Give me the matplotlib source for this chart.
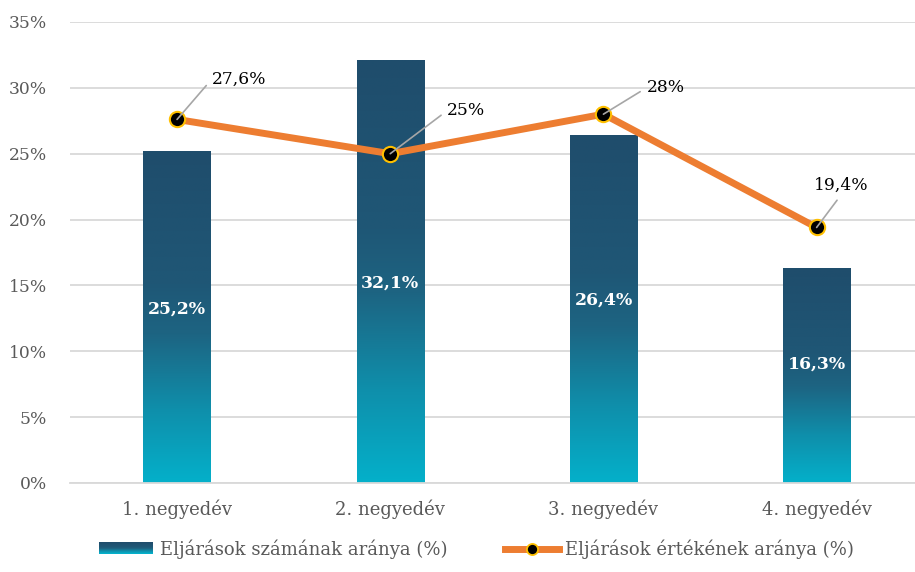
import numpy as np
import matplotlib.pyplot as plt
from matplotlib.colors import LinearSegmentedColormap
from matplotlib.patches import Rectangle
from matplotlib.lines import Line2D
from matplotlib.legend_handler import HandlerBase

categories = ["1. negyedév", "2. negyedév", "3. negyedév", "4. negyedév"]
szam_arany = [25.2, 32.1, 26.4, 16.3]     # Eljárások számának aránya (%)
ertek_arany = [27.6, 25.0, 28.0, 19.4]    # Eljárások értékének aránya (%)
ertek_labels = ["27,6%", "25%", "28%", "19,4%"]
yticks = [0, 5, 10, 15, 20, 25, 30, 35]

plt.rcParams['font.family'] = ['DejaVu Serif']

# dark teal on top, fading to cyan near the base
grad = LinearSegmentedColormap.from_list(
    "bar", [(0.0, "#04b0ca"), (0.22, "#0f8fab"), (0.45, "#1d6482"),
            (0.6, "#1f5776"), (1.0, "#1f4d6c")])

fig = plt.figure(figsize=(9.15, 5.72), dpi=100)
ax = fig.add_axes([0.077, 0.1556, 0.932, 0.806])

x = np.arange(len(categories))
bw = 0.315
label_shift = [0.6, -0.85, 0.7, 0.85]   # nudge white labels inside bars
grad_img = np.linspace(0, 1, 256).reshape(-1, 1)
for xi, v, dy in zip(x, szam_arany, label_shift):
    ax.imshow(grad_img, cmap=grad, origin="lower", aspect="auto",
              extent=(xi - bw / 2, xi + bw / 2, 0, v), zorder=2)
    ax.text(xi, v / 2 + dy, f"{v:.1f}%".replace(".", ","), ha="center", va="center",
            color="white", fontsize=12.4, fontweight="bold", zorder=3)

ax.plot(x, ertek_arany, color="#ed7d31", lw=5, zorder=4, solid_capstyle="butt")
ax.plot(x, ertek_arany, ls="none", marker="o", ms=11, mfc="black",
        mec="#ffc000", mew=1.5, zorder=5)

offsets = [(25, 29), (41, 31), (31, 19), (18, 24)]
relpos = [(0, 0.5), (0, 0.5), (0, 0.5), (0.5, 0)]
has = ["left", "left", "left", "center"]
vas = ["center", "center", "center", "bottom"]
for i, (xi, v) in enumerate(zip(x, ertek_arany)):
    ax.annotate(ertek_labels[i], (xi, v), xytext=offsets[i], textcoords="offset points",
                ha=has[i], va=vas[i], fontsize=12.3, color="black", zorder=6,
                arrowprops=dict(arrowstyle="-", color="#a6a6a6", lw=1.2,
                                shrinkA=3, shrinkB=0, relpos=relpos[i]))

ax.set_xlim(-0.5, 3.5)
ax.set_ylim(0, 35)
ax.set_yticks(yticks)
ax.set_yticklabels([f"{t}%" for t in yticks], fontsize=12.3)
ax.set_xticks(x)
ax.set_xticklabels(categories, fontsize=13)
ax.tick_params(length=0, labelcolor="#595959")
ax.tick_params(axis="y", pad=17)
ax.tick_params(axis="x", pad=12)
ax.grid(axis="y", color="#d9d9d9", lw=1.3, zorder=0)
ax.set_axisbelow(True)
for s in ["top", "right", "left"]:
    ax.spines[s].set_visible(False)
ax.spines["bottom"].set_color("#d9d9d9")
ax.spines["bottom"].set_linewidth(1.3)


class GradientHandler(HandlerBase):
    def create_artists(self, legend, orig_handle, xdescent, ydescent,
                       width, height, fontsize, trans):
        n = 12
        arts = []
        for k in range(n):
            arts.append(Rectangle((-xdescent, -ydescent + height * k / n), width, height / n + 0.2,
                                  facecolor=grad(k / (n - 1)), edgecolor="none", transform=trans))
        return arts


bar_handle = Rectangle((0, 0), 1, 1)
line_handle = Line2D([], [], color="#ed7d31", lw=5, marker="o", ms=8,
                     mfc="black", mec="#ffc000", mew=1.3)
fig.legend([bar_handle, line_handle],
           ["Eljárások számának aránya (%)", "Eljárások értékének aránya (%)"],
           handler_map={Rectangle: GradientHandler()},
           loc="lower center", bbox_to_anchor=(0.521, -0.005), ncol=2, frameon=False,
           fontsize=13, labelcolor="#595959", handlelength=3.0, handleheight=0.6,
           columnspacing=3.2, handletextpad=0.35)

fig.savefig("out.png", dpi=100)
